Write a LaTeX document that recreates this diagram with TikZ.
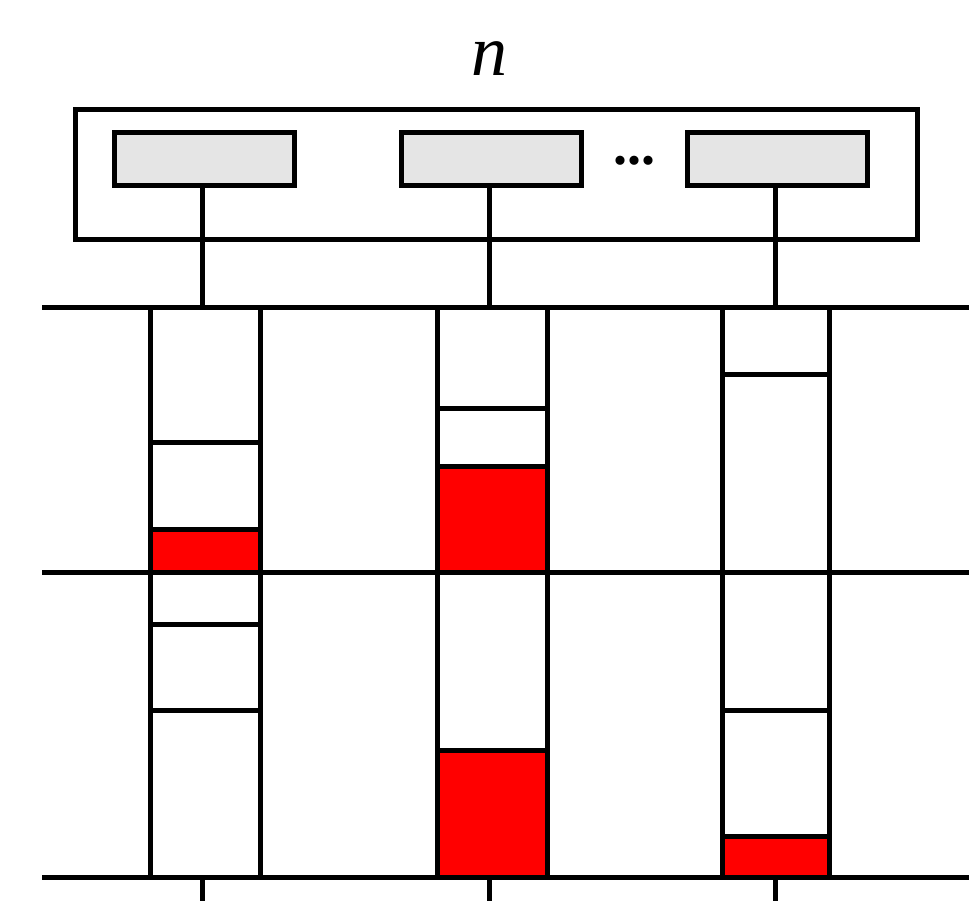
\documentclass[tikz,border=0pt]{standalone}
\usepackage{fontspec}
\setmainfont{Liberation Serif}
\definecolor{slotgray}{RGB}{229,229,229}
\definecolor{hotred}{RGB}{255,0,0}
\begin{document}
\begin{tikzpicture}[x=1pt,y=-1pt,line width=5pt,
  slot/.style={draw,fill=slotgray,rectangle,minimum width=180pt,minimum height=53pt,inner sep=0pt,line width=5pt},
  frame/.style={draw,rectangle,minimum width=842pt,minimum height=130pt,inner sep=0pt,line width=5pt},
  busy/.style={fill=hotred,draw=black,line width=1.5pt},
  rail/.style={line width=5pt},
  cell/.style={line width=5pt}]
\useasboundingbox (0,0) rectangle (969,901);
% outer frame and slots
\node[frame] (outer) at (496,175) {};
\node[slot] (b1) at (204,159.5) {};
\node[slot] (b2) at (491,159.5) {};
\node[slot] (b3) at (777,159.5) {};
\node[anchor=base,inner sep=0pt,font=\fontsize{56}{60}\selectfont\bfseries] (dots) at (634,165) {...};
\node[anchor=base,inner sep=0pt,font=\fontsize{72}{78}\selectfont\itshape] (n) at (489,76) {n};
% red fills
\fill[busy] (150,529) rectangle (260,572);
\fill[busy] (437,466) rectangle (547,572);
\fill[busy] (437,750) rectangle (547,877);
\fill[busy] (722,836) rectangle (829,877);
% rails
\coordinate (r1a) at (42,308);  \coordinate (r1b) at (969,308);
\coordinate (r2a) at (42,572);  \coordinate (r2b) at (969,572);
\coordinate (r3a) at (42,877);  \coordinate (r3b) at (969,877);
\draw[rail] (r1a) -- (r1b);
\draw[rail] (r2a) -- (r2b);
\draw[rail] (r3a) -- (r3b);
% connectors
\coordinate (t1) at (202,308); \coordinate (t2) at (489,308); \coordinate (t3) at (775,308);
\draw ([xshift=-2pt]b1.south) -- (t1);
\draw ([xshift=-2pt]b2.south) -- (t2);
\draw ([xshift=-2pt]b3.south) -- (t3);
% stubs at bottom
\coordinate (s1) at (202,877); \coordinate (e1) at (202,901);
\coordinate (s2) at (489,877); \coordinate (e2) at (489,901);
\coordinate (s3) at (775,877); \coordinate (e3) at (775,901);
\draw (s1) -- (e1);
\draw (s2) -- (e2);
\draw (s3) -- (e3);
% column verticals
\foreach \x in {150,260,437,547,722,829} {
  \draw (\x,308) -- (\x,877);
}
% cell separators column 1
\foreach \y in {442,529,624,710} { \draw[cell] (150,\y) -- (260,\y); }
% column 2
\foreach \y in {408,466,750} { \draw[cell] (437,\y) -- (547,\y); }
% column 3
\foreach \y in {374,710,836} { \draw[cell] (722,\y) -- (829,\y); }
\end{tikzpicture}
\end{document}
